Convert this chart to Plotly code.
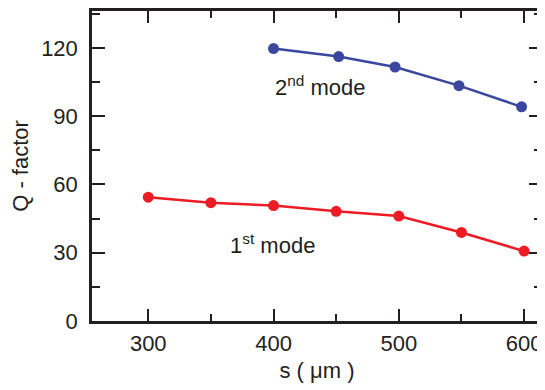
import plotly.graph_objects as go

# Data
s_mode1 = [300, 350, 400, 450, 500, 550, 600]
q_mode1 = [54.4, 52.0, 50.7, 48.2, 46.1, 38.9, 30.7]

s_mode2 = [400, 452, 497, 548, 598]
q_mode2 = [119.7, 116.2, 111.6, 103.4, 94.1]

x_major = [300, 400, 500, 600]
y_major = [0, 30, 60, 90, 120]

RED = "#ED1C24"
BLUE = "#3A479E"
AX = "#231F20"
FONT = "Liberation Sans, Arial, Helvetica, sans-serif"

fig = go.Figure()
fig.add_trace(go.Scatter(x=s_mode1, y=q_mode1, mode="lines+markers",
                         line=dict(color=RED, width=2.5),
                         marker=dict(color=RED, size=11), showlegend=False))
fig.add_trace(go.Scatter(x=s_mode2, y=q_mode2, mode="lines+markers",
                         line=dict(color=BLUE, width=2.5),
                         marker=dict(color=BLUE, size=11), showlegend=False))

fig.add_annotation(x=399.5, y=103.2, xref="x", yref="y", xanchor="left", yanchor="middle",
                   text="2<sup>nd</sup> mode", showarrow=False,
                   font=dict(family=FONT, size=22, color=AX))
fig.add_annotation(x=364, y=33.8, xref="x", yref="y", xanchor="left", yanchor="middle",
                   text="1<sup>st</sup> mode", showarrow=False,
                   font=dict(family=FONT, size=22, color=AX))

# page body has an 8px margin: figure is shifted, so size/margins compensate
fig.update_layout(
    width=537, height=382,
    margin=dict(l=84, r=0, t=2, b=69),
    paper_bgcolor="white", plot_bgcolor="white",
    font=dict(family=FONT, size=22, color=AX),
    xaxis=dict(range=[255.1, 614.3], tickmode="array", tickvals=x_major,
               ticks="inside", ticklen=12, tickwidth=1.5, tickcolor=AX,
               minor=dict(dtick=50, tick0=0, ticks="inside", ticklen=7, tickwidth=1.5, tickcolor=AX),
               showline=True, linewidth=2.5, linecolor=AX, mirror="allticks",
               showgrid=False, zeroline=False, ticklabelstandoff=1,
               title=dict(text="s ( μm )", standoff=8, font=dict(size=22))),
    yaxis=dict(range=[0, 136.2], tickmode="array", tickvals=y_major,
               ticks="inside", ticklen=13, tickwidth=1.5, tickcolor=AX,
               minor=dict(dtick=15, tick0=0, ticks="inside", ticklen=8, tickwidth=1.5, tickcolor=AX),
               showline=True, linewidth=2.5, linecolor=AX, mirror="allticks",
               showgrid=False, zeroline=False, ticklabelstandoff=7,
               title=dict(text="Q - factor", standoff=12, font=dict(size=22))),
)

fig.write_html("out.html")
